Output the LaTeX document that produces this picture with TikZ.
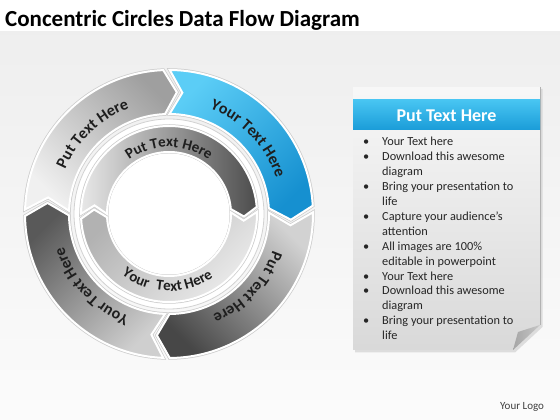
\documentclass[tikz,border=0pt]{standalone}
\usepackage{fontspec}
\setmainfont{Carlito}
\usetikzlibrary{decorations.text}
\definecolor{blueL}{HTML}{5BCDF6}
\definecolor{blueD}{HTML}{1690D0}
\definecolor{hdrL}{HTML}{48C5F2}
\definecolor{hdrD}{HTML}{1A9CD8}
\definecolor{txtD}{HTML}{1E1E1E}
\newcommand\ringfont{\fontsize{16}{16}\selectfont\bfseries}
\newcommand\innerfont{\fontsize{15}{15}\selectfont\bfseries}
\newcommand\titlefont{\fontsize{23}{26}\selectfont\bfseries}
\newcommand\listfont{\fontsize{12.3}{14.9}\selectfont}
\tikzset{
  halo/.style={draw=gray!40, line width=3.5pt, line join=miter},
  segb/.style={draw=white, line width=2pt, line join=miter},
  ringtxt/.style={decorate, decoration={text along path, text align=center, text={#1}}}
}
\def\seg#1#2#3#4#5{(#1:#4) arc[start angle=#1, end angle=#2, radius=#4] -- ({#2-#5}:{(#3+#4)/2}) -- (#2:#3) arc[start angle=#2, end angle=#1, radius=#3] -- ({#1-#5}:{(#3+#4)/2}) -- cycle}
\begin{document}
\begin{tikzpicture}[x=1pt,y=1pt]
\useasboundingbox (0,0) rectangle (560,420);
\fill[white] (0,0) rectangle (560,420);
\shade[top color=gray!13, bottom color=gray!3] (0,0) rectangle (560,388);
\node[anchor=base west, font=\titlefont, inner sep=0] (title) at (5,393) {Concentric Circles Data Flow Diagram};

\begin{scope}[shift={(169,206)}]
  % outer ring halos
  \path[halo] \seg{178.2}{92.3}{100}{144}{6};
  \path[halo] \seg{89.7}{3.3}{100}{144}{6};
  \path[halo] \seg{0.7}{-89.7}{100}{144}{6};
  \path[halo] \seg{-92.3}{-179.2}{100}{144}{6};
  % outer ring segments
  \path[segb, top color=gray!75, bottom color=gray!12, shading angle=-45] \seg{178.2}{92.3}{100}{144}{6};
  \path[segb, top color=blueL, bottom color=blueD, shading angle=45] \seg{89.7}{3.3}{100}{144}{6};
  \path[segb, top color=gray!35, bottom color=black!72, shading angle=-45] \seg{0.7}{-89.7}{100}{144}{6};
  \path[segb, top color=black!65, bottom color=gray!38, shading angle=45] \seg{-92.3}{-179.2}{100}{144}{6};
  % white band around inner ring
  \fill[white] (0,0) circle[radius=95];
  \draw[gray!35, line width=0.8pt] (0,0) circle[radius=95];
  % inner ring
  \path[halo] \seg{179.9}{4.6}{62}{88}{6.5};
  \path[halo] \seg{1.4}{-176.9}{62}{88}{6.5};
  \path[segb, left color=gray!18, right color=black!70] \seg{179.9}{4.6}{62}{88}{6.5};
  \path[segb, top color=gray!60, bottom color=gray!15, shading angle=45] \seg{1.4}{-176.9}{62}{88}{6.5};
  \fill[white] (0,0) circle[radius=60.5];
  % texts
  \path[ringtxt={|\ringfont\color{txtD}|Put Text Here}] (173.6:113) arc[start angle=173.6, end angle=93.6, radius=113];
  \path[ringtxt={|\ringfont\color{txtD}|Your Text Here}] (83.6:113) arc[start angle=83.6, end angle=3.6, radius=113];
  \path[ringtxt={|\ringfont\color{txtD}|Put Text Here}] (-3:110) arc[start angle=-3, end angle=-83, radius=110];
  \path[ringtxt={|\ringfont\color{txtD}|Your Text Here}] (-97:110) arc[start angle=-97, end angle=-177, radius=110];
  \path[ringtxt={|\innerfont\color{txtD}|Put Text Here}] (140:67) arc[start angle=140, end angle=40, radius=67];
  \path[ringtxt={|\innerfont\color{txtD}|Your}] (-137:77) arc[start angle=-137, end angle=-97, radius=77];
  \path[ringtxt={|\innerfont\color{txtD}|Text Here}] (-112.5:77) arc[start angle=-112.5, end angle=-42.5, radius=77];
\end{scope}

% panel
\fill[gray!45, opacity=.55] (355,331) -- (542.5,331) -- (542.5,93) -- (515,67.5) -- (355,67.5) -- cycle;
\path[top color=gray!6, bottom color=gray!30] (353,333) -- (540,333) -- (540,95) -- (513,70) -- (353,70) -- cycle;
\draw[gray!60, line width=1pt] (540.3,333) -- (540.3,95);
\path[left color=gray!70, right color=gray!45] (540,95) -- (518,88) -- (513,70) -- cycle;
\path[top color=hdrL, bottom color=hdrD] (353,290) rectangle (540,320);
\node[anchor=base, inner sep=0, text=white, font=\fontsize{18}{20}\selectfont\bfseries] (hdr) at (446.5,298.5) {Put Text Here};
\node[anchor=base west, inner sep=0, font=\listfont, text=black!85] (list) at (363,274) {%
\begin{tabular}[t]{@{}l@{}l@{}}
\makebox[19pt][l]{\textbullet} & Your Text here\\
\makebox[19pt][l]{\textbullet} & Download this awesome\\
 & diagram\\
\makebox[19pt][l]{\textbullet} & Bring your presentation to\\
 & life\\
\makebox[19pt][l]{\textbullet} & Capture your audience’s\\
 & attention\\
\makebox[19pt][l]{\textbullet} & All images are 100\%\\
 & editable in powerpoint\\
\makebox[19pt][l]{\textbullet} & Your Text here\\
\makebox[19pt][l]{\textbullet} & Download this awesome\\
 & diagram\\
\makebox[19pt][l]{\textbullet} & Bring your presentation to\\
 & life
\end{tabular}};
\node[anchor=base west, inner sep=0, font=\fontsize{11}{12}\selectfont, text=black!75] (logo) at (500,10.5) {Your Logo};
\end{tikzpicture}
\end{document}
